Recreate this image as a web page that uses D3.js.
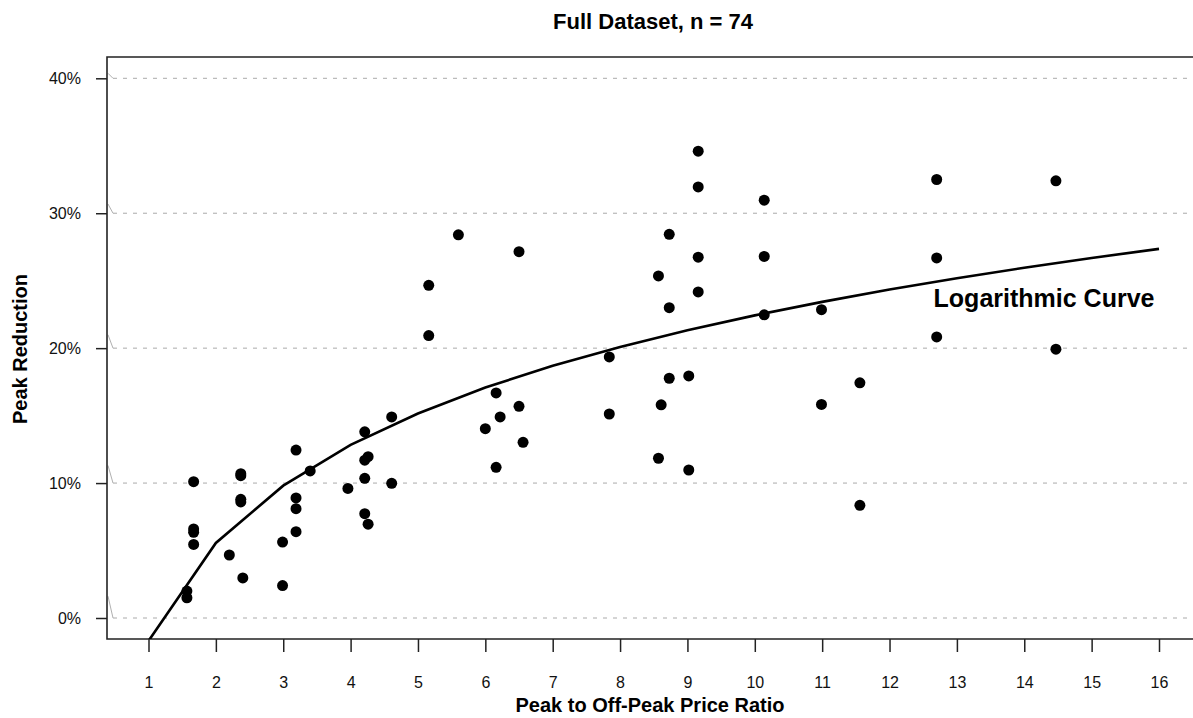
<!doctype html>
<html>
<head>
<meta charset="utf-8">
<style>
body { margin:0; background:#fff; }
svg { display:block; font-family: Arial, "Liberation Sans", sans-serif; }
</style>
<script src="https://d3js.org/d3.v7.min.js"></script>
</head>
<body>
<script>

var svgWidth = 1193;
var svgHeight = 718;

// observed points (price ratio, peak reduction in %)
var ratio = [1.57, 1.57,
  1.67, 1.67, 1.67, 1.67,
  2.2,
  2.37, 2.37, 2.37, 2.37,
  2.4,
  2.99, 2.99,
  3.19, 3.19, 3.19, 3.19,
  3.4, 3.96,
  4.21, 4.21, 4.21, 4.21,
  4.26, 4.26,
  4.61, 4.61,
  5.16, 5.16,
  5.6, 6.0,
  6.16, 6.16,
  6.22,
  6.5, 6.5,
  6.56,
  7.84, 7.84,
  8.57, 8.57,
  8.61,
  8.73, 8.73, 8.73,
  9.02, 9.02,
  9.16, 9.16, 9.16, 9.16,
  10.14, 10.14, 10.14,
  10.99, 10.99,
  11.56, 11.56,
  12.7, 12.7, 12.7,
  14.47, 14.47];
var reduction = [2.0, 1.5,
  10.1, 6.6, 6.35, 5.45,
  4.67,
  10.7, 10.55, 8.8, 8.6,
  2.97,
  2.4, 5.63,
  12.45, 8.9, 8.1, 6.4,
  10.9, 9.6,
  13.8, 11.7, 10.35, 7.73,
  11.96, 6.95,
  14.9, 9.98,
  24.66, 20.93,
  28.4, 14.03,
  16.68, 11.17,
  14.9,
  27.15, 15.69,
  13.02,
  19.35, 15.12,
  25.35, 11.84,
  15.8,
  28.44, 23.0, 17.77,
  17.94, 10.97,
  34.6, 31.95, 26.74, 24.17,
  30.97, 26.8, 22.47,
  22.85, 15.83,
  17.43, 8.35,
  32.5, 26.69, 20.83,
  32.4, 19.92];

// fitted logarithmic curve, read at each integer ratio
var curveX = [1, 2, 3, 4, 5, 6, 7, 8, 9, 10, 11, 12, 13, 14, 15, 16];
var curveY = [-1.7, 5.56, 9.81, 12.83, 15.16, 17.08, 18.69, 20.09, 21.33, 22.43, 23.43, 24.34, 25.18, 25.96, 26.68, 27.36];

var xTicks = [1, 2, 3, 4, 5, 6, 7, 8, 9, 10, 11, 12, 13, 14, 15, 16];
var yTicks = [0, 10, 20, 30, 40];

// plot box (note: "top" is reserved on window, so use a prefix)
var boxL = 107, boxR = 1193, boxT = 57, boxB = 639;

var x = d3.scaleLinear().domain([1, 16]).range([148.5, 1159]);
var y = d3.scaleLinear().domain([0, 40]).range([618, 78.3]);

var svg = d3.select("body").append("svg")
  .attr("width", svgWidth)
  .attr("height", svgHeight);

svg.append("defs").append("clipPath").attr("id", "plot")
  .append("rect").attr("x", boxL).attr("y", boxT)
  .attr("width", boxR - boxL).attr("height", boxB - boxT);

// grid lines, each with the little slanted lead-in at the axis
var grid = svg.append("g");
yTicks.forEach(function (v) {
  var gy = y(v);
  var lead = 5 + (40 - v) * 0.42;
  grid.append("path")
    .attr("d", "M" + (boxL + 1) + "," + (gy - lead) + "L" + (boxL + 6) + "," + gy)
    .attr("stroke", "#b0b0b0").attr("stroke-width", 1).attr("fill", "none");
  grid.append("line")
    .attr("x1", boxL + 6).attr("x2", boxR)
    .attr("y1", gy).attr("y2", gy)
    .attr("stroke", "#aaa").attr("stroke-width", 1)
    .attr("stroke-dasharray", "4,6");
});

// frame (left, top, bottom)
svg.append("path")
  .attr("d", "M" + boxR + "," + boxT + "H" + boxL + "V" + boxB + "H" + boxR)
  .attr("fill", "none").attr("stroke", "#222").attr("stroke-width", 1.6);

// x axis
var xAxis = svg.append("g")
  .attr("transform", "translate(0," + boxB + ")")
  .call(d3.axisBottom(x).tickValues(xTicks).tickSize(13).tickPadding(25).tickFormat(d3.format("d")));
xAxis.select(".domain").remove();
xAxis.selectAll(".tick line").attr("stroke", "#222").attr("stroke-width", 1.5);
xAxis.selectAll("text").attr("font-size", 16).attr("fill", "#111")
  .attr("font-family", "Arial, 'Liberation Sans', sans-serif");

// y axis
var yAxis = svg.append("g")
  .attr("transform", "translate(" + boxL + ",0)")
  .call(d3.axisLeft(y).tickValues(yTicks).tickSize(11).tickPadding(15)
    .tickFormat(function (d) { return d + "%"; }));
yAxis.select(".domain").remove();
yAxis.selectAll(".tick line").attr("stroke", "#222").attr("stroke-width", 1.5);
yAxis.selectAll("text").attr("font-size", 16).attr("fill", "#111")
  .attr("font-family", "Arial, 'Liberation Sans', sans-serif");

// fitted curve
var line = d3.line()
  .x(function (d) { return x(d[0]); })
  .y(function (d) { return y(d[1]); });

svg.append("path")
  .datum(d3.zip(curveX, curveY))
  .attr("clip-path", "url(#plot)")
  .attr("d", line)
  .attr("fill", "none")
  .attr("stroke", "#000")
  .attr("stroke-width", 2.6);

// points
svg.append("g").selectAll("circle")
  .data(d3.zip(ratio, reduction))
  .enter()
  .append("circle")
  .attr("cx", function (d) { return x(d[0]); })
  .attr("cy", function (d) { return y(d[1]); })
  .attr("r", 5.5)
  .attr("fill", "#000");

// labels
svg.append("text")
  .attr("x", 653).attr("y", 29)
  .attr("text-anchor", "middle")
  .attr("font-size", 22).attr("font-weight", "bold")
  .text("Full Dataset, n = 74");

svg.append("text")
  .attr("x", 1044).attr("y", 307)
  .attr("text-anchor", "middle")
  .attr("font-size", 25).attr("font-weight", "bold")
  .text("Logarithmic Curve");

svg.append("text")
  .attr("x", 650).attr("y", 712)
  .attr("text-anchor", "middle")
  .attr("font-size", 20).attr("font-weight", "bold")
  .text("Peak to Off-Peak Price Ratio");

svg.append("text")
  .attr("transform", "translate(27,349) rotate(-90)")
  .attr("text-anchor", "middle")
  .attr("font-size", 20).attr("font-weight", "bold")
  .text("Peak Reduction");

</script>
</body>
</html>
